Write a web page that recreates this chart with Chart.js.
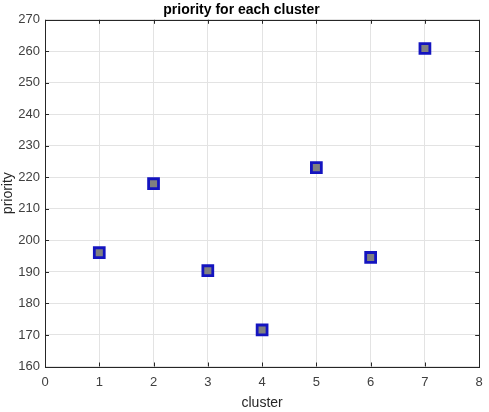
<!DOCTYPE html>
<html>
<head>
<meta charset="utf-8">
<script src="https://cdn.jsdelivr.net/npm/chart.js@4"></script>
<style>
  html, body { margin: 0; padding: 0; background: #fff; }
  #wrap { width: 489px; height: 412px; }
</style>
</head>
<body>
<div id="wrap"><canvas id="chart" width="489" height="412"></canvas></div>
<script>
// data
const clusters = [1, 2, 3, 4, 5, 6, 7];
const priority = [196.1, 218, 190.4, 171.6, 223.1, 194.6, 260.9];
const xTicks = [0, 1, 2, 3, 4, 5, 6, 7, 8];
const yTicks = [160, 170, 180, 190, 200, 210, 220, 230, 240, 250, 260, 270];

const points = clusters.map((c, i) => ({ x: c, y: priority[i] }));

// MATLAB-like box with inward tick marks
const boxPlugin = {
    id: "box",
    afterDraw(chart) {
        const { ctx, chartArea: a, scales } = chart;
        ctx.save();
        ctx.strokeStyle = "#262626";
        ctx.lineWidth = 1;
        ctx.beginPath();
        xTicks.forEach(v => {
            const px = Math.round(scales.x.getPixelForValue(v)) + 0.5;
            ctx.moveTo(px, a.bottom); ctx.lineTo(px, a.bottom - 4);
            ctx.moveTo(px, a.top); ctx.lineTo(px, a.top + 4);
        });
        yTicks.forEach(v => {
            const py = Math.round(scales.y.getPixelForValue(v)) + 0.5;
            ctx.moveTo(a.left, py); ctx.lineTo(a.left + 4, py);
            ctx.moveTo(a.right, py); ctx.lineTo(a.right - 4, py);
        });
        ctx.stroke();
        ctx.strokeRect(Math.round(a.left) + 0.5, Math.round(a.top) + 0.5,
            Math.round(a.right - a.left), Math.round(a.bottom - a.top));
        ctx.restore();
    }
};

new Chart(document.getElementById("chart"), {
    type: "scatter",
    data: {
        datasets: [{
            data: points,
            pointStyle: "rect",
            pointRadius: 7,
            pointHoverRadius: 7,
            pointBackgroundColor: "#808080",
            pointBorderColor: "#1414c0",
            pointBorderWidth: 2.8
        }]
    },
    options: {
        responsive: false,
        animation: false,
        layout: { padding: { left: 0, right: 6, top: 0, bottom: 0 } },
        plugins: {
            legend: { display: false },
            tooltip: { enabled: false },
            title: {
                display: true,
                text: "priority for each cluster",
                color: "#000",
                font: { family: "Liberation Sans, Arial, sans-serif", size: 14, weight: "bold" },
                padding: { top: 2, bottom: 1 }
            }
        },
        scales: {
            x: {
                type: "linear",
                min: 0, max: 8,
                afterBuildTicks: s => { s.ticks = xTicks.map(v => ({ value: v })); },
                afterFit: s => { s.height = 45.5; s.paddingLeft = 0; s.paddingRight = 0; },
                grid: { color: "#e3e3e3", drawTicks: false },
                border: { display: false },
                ticks: {
                    padding: 8,
                    color: "#404040",
                    font: { family: "Liberation Sans, Arial, sans-serif", size: 13 }
                },
                title: {
                    display: true,
                    text: "cluster",
                    color: "#262626",
                    padding: { top: 2, bottom: 0 },
                    font: { family: "Liberation Sans, Arial, sans-serif", size: 14 }
                }
            },
            y: {
                type: "linear",
                min: 160, max: 270,
                afterBuildTicks: s => { s.ticks = yTicks.map(v => ({ value: v })); },
                afterFit: s => { s.width = 45; s.paddingTop = 0; s.paddingBottom = 0; },
                grid: { color: "#e3e3e3", drawTicks: false },
                border: { display: false },
                ticks: {
                    padding: 5,
                    color: "#404040",
                    font: { family: "Liberation Sans, Arial, sans-serif", size: 13 }
                },
                title: {
                    display: true,
                    text: "priority",
                    color: "#262626",
                    padding: { top: 0, bottom: 0 },
                    font: { family: "Liberation Sans, Arial, sans-serif", size: 14 }
                }
            }
        }
    },
    plugins: [boxPlugin]
});
</script>
</body>
</html>
